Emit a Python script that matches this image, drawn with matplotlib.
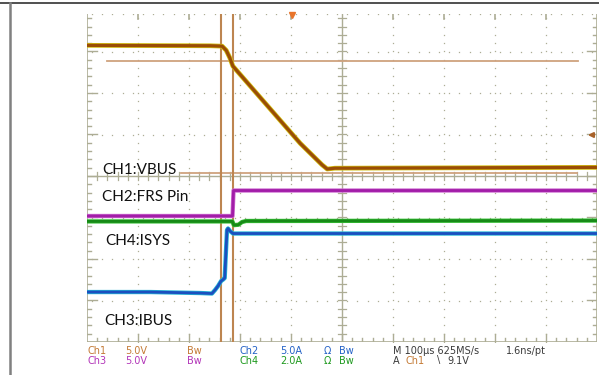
import numpy as np
import matplotlib
matplotlib.use('Agg')
import matplotlib.pyplot as plt
from matplotlib.lines import Line2D

W, H, DPI = 599, 375, 100

# ---------------- data ----------------
# time in microseconds relative to trigger, 100 us/div
vbus_t = [-402, -160, -137, -129, -122, -116, 16, 59, 69, 84, 598]
vbus_v = [19.9, 19.85, 19.8, 19.3, 18.4, 17.4, 8.1, 5.5, 5.0, 5.1, 5.2]

frs_t = [-402, -116.7, -114.7, 598]
frs_v = [0.0, 0.0, 3.07, 3.07]

ibus_t = [-402, -278, -180, -157, -151, -145, -139, -135, -132, -129.4,
          -127.5, -125.5, -121.6, -115.7, 598]
ibus_a = [-3.53, -3.53, -3.65, -3.71, -3.29, -2.80, -2.20, -2.02, -1.84,
          1.54, 3.94, 4.13, 3.82, 3.52, 3.52]

isys_t = [-402, -117, -114, -105, -98, -90, 598]
isys_a = [1.48, 1.48, 1.30, 1.32, 1.45, 1.50, 1.52]

cursor_t = [-139.8, -116.3]      # vertical cursors (us)
cursor_v = [18.0, 4.5]           # horizontal cursors (CH1 volts)
trig_level = 9.1                 # V on CH1

labels = ["CH1:VBUS", "CH2:FRS Pin", "CH4:ISYS", "CH3:IBUS"]

# channel settings: (units per div, ground position in div)
CH1 = (5.0, -0.832)
CH3 = (5.0, -0.964)
CH2 = (5.0, -2.09)
CH4 = (2.0, -1.834)

def to_div(vals, ch):
    s, p = ch
    return np.asarray(vals, float) / s + p

# ---------------- figure ----------------
fig = plt.figure(figsize=(W / DPI, H / DPI), dpi=DPI)
fig.patch.set_facecolor('white')

# outer frame lines
fig.add_artist(Line2D([0, 1], [1 - 3 / H] * 2, color='#505050', lw=1.4))
fig.add_artist(Line2D([10 / W] * 2, [0, 1 - 3 / H], color='#808080', lw=1.8))

X0, X1, Y0, Y1 = 87, 597, 14, 342
ax = fig.add_axes([X0 / W, 1 - Y1 / H, (X1 - X0) / W, (Y1 - Y0) / H])
TL, TR = -402, 598
YB, YT = -4.0, (176 - 14) / 41.5
ax.set_xlim(TL, TR)
ax.set_ylim(YB, YT)
ax.axis('off')

px_x = (TR - TL) / (X1 - X0)      # us per pixel
px_y = (YT - YB) / (Y1 - Y0)      # div per pixel
gc = '#ADAD95'
tc = 98  # centre time

# dotted grid
for k in range(-4, 5):
    if k == 0:
        continue
    xx = tc + 100 * k
    ys = np.arange(YB, YT, 0.2)
    ax.plot(np.full_like(ys, xx), ys, ls='none', marker='s', ms=0.9, color=gc, mew=0)
    ax.plot([xx, xx], [YT - 5 * px_y, YT], color=gc, lw=1.2)
for k in list(range(-3, 4)) + [YT]:
    if k == 0:
        continue
    xs = np.arange(TL + 10, TR, 20)
    ax.plot(xs, np.full_like(xs, k, dtype=float), ls='none', marker='s', ms=0.9, color=gc, mew=0)

# centre axes with ticks
ax.plot([tc, tc], [YB, YT], color=gc, lw=1.0)
ax.plot([TL, TR], [0, 0], color=gc, lw=1.0)
for yy in np.arange(YB, YT, 0.2):
    ax.plot([tc - 4 * px_x, tc + 4 * px_x], [yy, yy], color=gc, lw=0.9)
for xx in np.arange(TL + 20, TR, 20):
    ax.plot([xx, xx], [-4 * px_y, 4 * px_y], color=gc, lw=0.9)

# edges with inward ticks
ax.plot([TL, TL], [YB, YT], color=gc, lw=1.2)
ax.plot([TR, TR], [YB, YT], color=gc, lw=1.2)
ax.plot([TL, TR], [YB, YB], color=gc, lw=1.2)
for yy in np.arange(YB, YT, 0.2):
    major = abs(yy - round(yy)) < 1e-6
    L = (10 if major else 4) * px_x
    ax.plot([TL, TL + L], [yy, yy], color=gc, lw=1.0)
    ax.plot([TR - L, TR], [yy, yy], color=gc, lw=1.0)
for xx in np.arange(TL + 20, TR, 20):
    major = abs(((xx - tc) / 100) - round((xx - tc) / 100)) < 1e-6
    L = (8 if major else 4) * px_y
    ax.plot([xx, xx], [YB, YB + L], color=gc, lw=1.0)

# cursors
ax.plot([-363, 560], [to_div(cursor_v[0], CH1)] * 2, color='#CFA27E', lw=1.3)
ax.plot([-218, 559], [to_div(cursor_v[1], CH1)] * 2, color='#CFA27E', lw=1.3)
for ct in cursor_t:
    ax.plot([ct, ct], [YB, YT], color='#BD8550', lw=1.5)

# traces
def trace(t, y, main, edge, lw=2.0):
    ax.plot(t, y, color=edge, lw=lw + 1.1, solid_joinstyle='round', zorder=4)
    ax.plot(t, y, color=main, lw=lw, solid_joinstyle='round', zorder=5)

trace(frs_t, to_div(frs_v, CH3), '#A21DA8', '#CD6AD0')
trace(isys_t, to_div(isys_a, CH4), '#178A17', '#38C038')
trace(ibus_t, to_div(ibus_a, CH2), '#1C4FBF', '#25B6D6')
trace(vbus_t, to_div(vbus_v, CH1), '#9A4D06', '#D2BE10', lw=2.3)

# trigger markers
ax.plot([0], [YT - 1 * px_y], marker='v', ms=4, color='#E8742A', clip_on=False, zorder=6)
ty = to_div(trig_level, CH1)
ax.annotate('', xy=(TR - 12 * px_x, ty), xytext=(TR - 1 * px_x, ty),
            arrowprops=dict(arrowstyle='-|>', color='#A8622A', lw=1.5,
                            mutation_scale=7), zorder=6)

# channel labels
def ftxt(x, y, s, **kw):
    fig.text(x / W, 1 - y / H, s, **kw)

lab_kw = dict(fontfamily='Lato', fontsize=11, color='#111111', va='center', ha='left')
ftxt(102, 170, labels[0], **lab_kw)
ftxt(102, 197, labels[1], **lab_kw)
ftxt(105, 241, labels[2], **lab_kw)
ftxt(104, 321, labels[3], **lab_kw)

# status bar
c1, c3, c2, c4, gk = '#C47A35', '#B234B8', '#2462C6', '#1F9A1F', '#3A3A3A'
sk = dict(fontsize=7, va='center', ha='left', fontfamily='DejaVu Sans')
r1, r2 = 351, 360.5
ftxt(87, r1, 'Ch1', color=c1, **sk)
ftxt(125, r1, '5.0V', color=c1, **sk)
ftxt(187, r1, 'Bw', color=c1, **sk)
ftxt(87, r2, 'Ch3', color=c3, **sk)
ftxt(125, r2, '5.0V', color=c3, **sk)
ftxt(187, r2, 'Bw', color=c3, **sk)
ftxt(240, r1, 'Ch2', color=c2, **sk)
ftxt(280, r1, '5.0A', color=c2, **sk)
ftxt(324, r1, '\u03a9', color=c2, **sk)
ftxt(339, r1, 'Bw', color=c2, **sk)
ftxt(240, r2, 'Ch4', color=c4, **sk)
ftxt(280, r2, '2.0A', color=c4, **sk)
ftxt(324, r2, '\u03a9', color=c4, **sk)
ftxt(339, r2, 'Bw', color=c4, **sk)
ftxt(393, r1, 'M 100\u00b5s 625MS/s', color=gk, **sk)
ftxt(506, r1, '1.6ns/pt', color=gk, **sk)
ftxt(393, r2, 'A', color=gk, **sk)
ftxt(406, r2, 'Ch1', color=c1, **sk)
ftxt(437, r2, '\\', color=gk, **sk)
ftxt(447, r2, '9.1V', color=gk, **sk)

fig.savefig('out.png', dpi=DPI, facecolor='white')
